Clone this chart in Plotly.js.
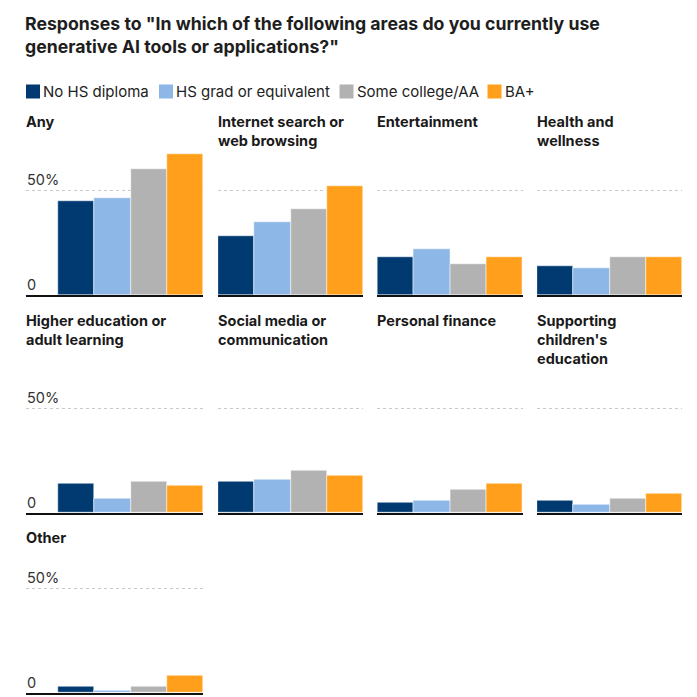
<!DOCTYPE html>
<html>
<head>
<meta charset="utf-8">
<script src="https://cdn.plot.ly/plotly-3.0.1.min.js"></script>
<style>
  html, body { margin: 0; padding: 0; background: #fff; }
  #chart { width: 697px; height: 697px; }
</style>
</head>
<body>
<div id="chart"></div>
<script>
// panels, in reading order (4 per row)
let panels = ["Any", "Internet search or<br>web browsing", "Entertainment", "Health and<br>wellness",
              "Higher education or<br>adult learning", "Social media or<br>communication", "Personal finance",
              "Supporting<br>children's<br>education", "Other"];

// share of respondents (%) by education
let no_hs        = [45, 28, 18, 14, 14, 15,  5, 6, 3];
let hs_grad      = [46, 35, 22, 13,  7, 16,  6, 4, 1];
let some_college = [60, 41, 15, 18, 15, 20, 11, 7, 3];
let ba_plus      = [67, 52, 18, 18, 13, 18, 14, 9, 8];

let groups = ["No HS diploma", "HS grad or equivalent", "Some college/AA", "BA+"];
let colors = ["#003A70", "#8DB7E7", "#B1B2B1", "#FF9F1C"];
let series = [no_hs, hs_grad, some_college, ba_plus];

let tick_vals = [0, 50];
let tick_text = ["0", "50%"];

const W = 697, H = 697;
let px = x => x / W;
let py = y => 1 - y / H;

// pixel boxes of the grid
let cols = [[26, 203.3], [218, 363], [377.3, 522.7], [537, 682]];
let rows = [
  {top: 148, bottom: 295, title: 111},
  {top: 366.5, bottom: 512.7, title: 310},
  {top: 546.5, bottom: 692.7, title: 527},
];
let label_room = 32 / 145;   // extra room left of the first column's bars

// legend drawn by hand: swatch left edges, in px
let legend_x = [26, 159, 339.5, 487.5];
let legend_y = 91.5;

let data = [];
let layout = {
  width: W,
  height: H,
  margin: {l: 0, r: 0, t: 0, b: 0},
  paper_bgcolor: "#fff",
  plot_bgcolor: "#fff",
  font: {family: "Inter, sans-serif", size: 14.5, color: "#222"},
  barmode: "group",
  bargap: 0,
  bargroupgap: 0,
  title: {
    text: "Responses to \"In which of the following areas do you currently use<br>generative AI tools or applications?\"",
    x: px(25), xref: "paper", xanchor: "left",
    y: py(30), yref: "paper", yanchor: "top",
    font: {size: 17.7, weight: 700, color: "#1e1e1e"},
  },
  showlegend: false,
  annotations: [],
  shapes: [],
};

groups.forEach((g, i) => {
  let x0 = legend_x[i];
  layout.shapes.push({
    type: "rect", xref: "paper", yref: "paper",
    x0: px(x0), x1: px(x0 + 14),
    y0: py(legend_y + 7), y1: py(legend_y - 7),
    fillcolor: colors[i], line: {width: 0},
  });
  layout.annotations.push({
    text: g,
    xref: "paper", yref: "paper",
    x: px(x0 + 15), y: py(legend_y),
    xanchor: "left", yanchor: "middle",
    showarrow: false,
    font: {size: 15, color: "#222"},
  });
});

panels.forEach((panel, p) => {
  let n = p + 1;
  let r = rows[Math.floor(p / 4)];
  let c = cols[p % 4];
  let first_col = p % 4 === 0;

  groups.forEach((g, i) => {
    data.push({
      type: "bar",
      x: [panel],
      y: [series[i][p]],
      name: g,
      legendgroup: g,
      xaxis: "x" + n,
      yaxis: "y" + n,
      marker: {color: colors[i], line: {color: "#fff", width: 0.5}},
      hovertemplate: g + ": %{y}%<extra></extra>",
    });
  });

  layout["xaxis" + n] = {
    domain: [px(c[0]), px(c[1])],
    anchor: "y" + n,
    range: [first_col ? -0.5 - label_room : -0.5, 0.5],
    showticklabels: false,
    ticks: "",
    showgrid: false,
    showline: true,
    linecolor: "#111",
    linewidth: 2,
    fixedrange: true,
  };
  layout["yaxis" + n] = {
    domain: [py(r.bottom), py(r.top)],
    anchor: "x" + n,
    range: [0, 70],
    tickvals: [50],
    showticklabels: false,
    ticks: "",
    showgrid: true,
    gridcolor: "#c8c8c8",
    griddash: "dot",
    gridwidth: 1,
    zeroline: false,
    showline: false,
    fixedrange: true,
  };

  layout.annotations.push({
    text: "<b>" + panel + "</b>",
    xref: "paper", yref: "paper",
    x: px(c[0]), y: py(r.title),
    xanchor: "left", yanchor: "top",
    xshift: -2,
    align: "left",
    showarrow: false,
    font: {size: 14.5, color: "#1a1a1a"},
  });

  if (first_col) {
    tick_vals.forEach((v, k) => {
      layout.annotations.push({
        text: tick_text[k],
        xref: "paper", yref: "y" + n,
        x: px(c[0]), y: v,
        xanchor: "left", yanchor: "bottom",
        xshift: -1.5, yshift: 0,
        showarrow: false,
        font: {size: 14.5, color: "#333"},
      });
    });
  }
});

Plotly.newPlot("chart", data, layout, {
  displaylogo: false,
  displayModeBar: false,
  responsive: false,
});
</script>
</body>
</html>
